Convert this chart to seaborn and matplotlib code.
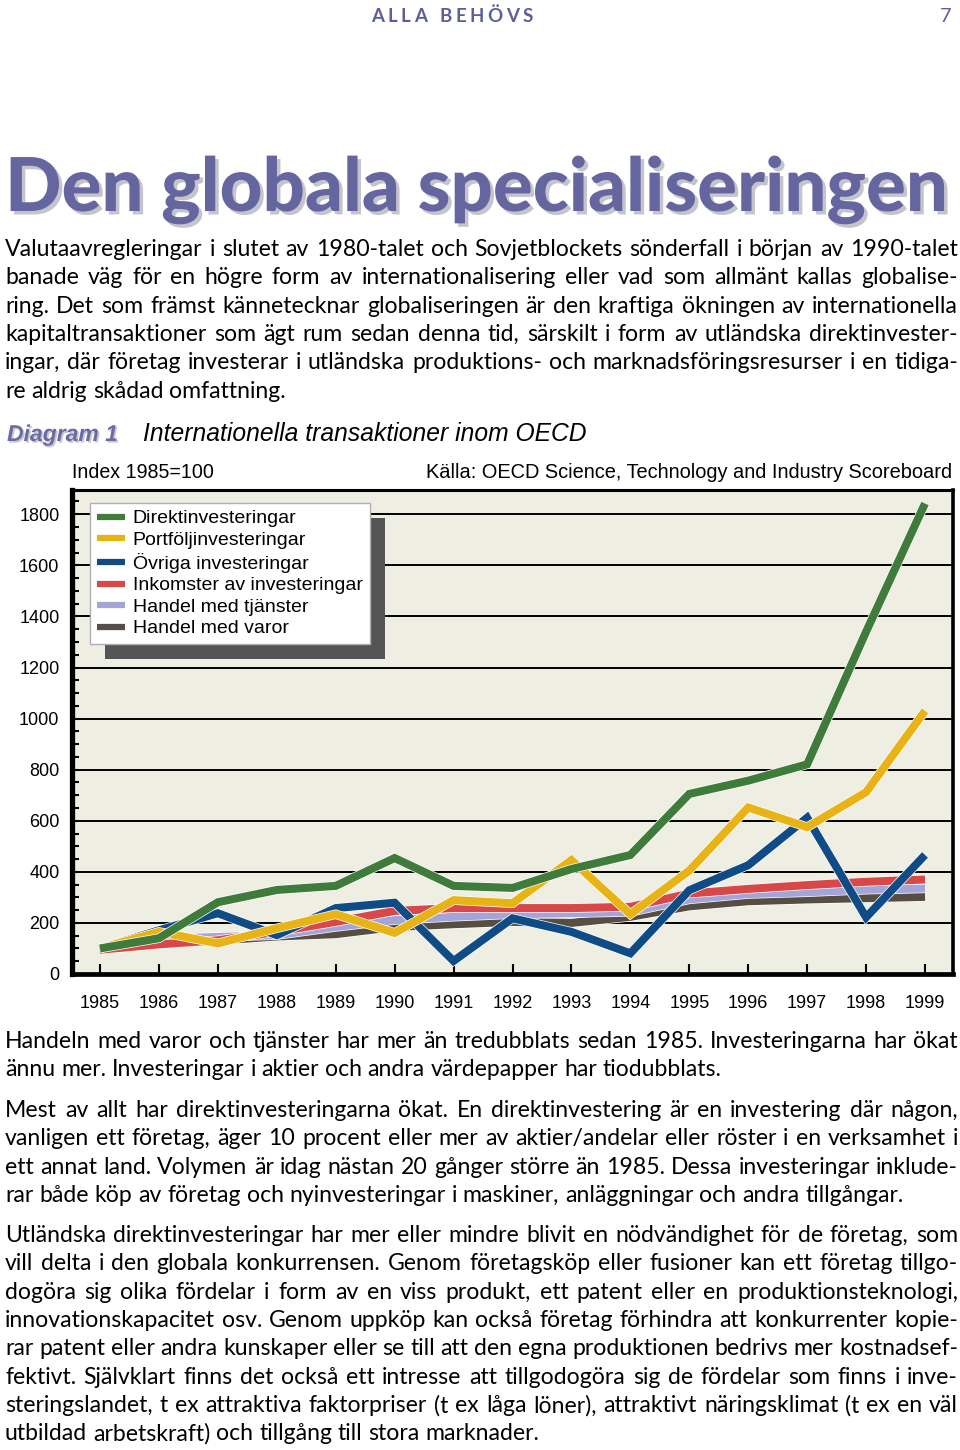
import seaborn as sns
from matplotlib import pyplot as plt
from matplotlib import patheffects as pe
from matplotlib.patches import Rectangle
from matplotlib.ticker import MultipleLocator
import pandas as pd
import numpy as np

# Years on the x axis
years = list(range(1985, 2000))

# Index values (1985=100), one list per series
direkt = [100, 140, 281, 329, 345, 454, 345, 337, 411, 466, 705, 757, 821, 1340, 1842]
portfolj = [100, 165, 120, 179, 234, 161, 289, 277, 446, 234, 405, 652, 575, 712, 1030]
ovriga = [100, 171, 238, 152, 258, 279, 51, 218, 165, 81, 328, 426, 612, 222, 466]
inkomster = [95, 116, 132, 165, 204, 247, 258, 258, 258, 263, 315, 333, 348, 361, 370]
tjanster = [100, 137, 145, 152, 184, 211, 224, 234, 238, 243, 292, 313, 320, 330, 335]
varor = [97, 125, 131, 147, 156, 184, 195, 204, 200, 224, 265, 285, 292, 297, 302]

series_names = ['Direktinvesteringar', 'Portföljinvesteringar', 'Övriga investeringar',
                'Inkomster av investeringar', 'Handel med tjänster', 'Handel med varor']
series_colors = ['#3f7b3a', '#e8b314', '#0f4c86', '#d84848', '#a4a4d8', '#564d43']
y_ticks = list(range(0, 1801, 200))

# Page texts
header = 'ALLA BEHÖVS'
page_no = '7'
title = 'Den globala specialiseringen'
diagram_no = 'Diagram 1'
diagram_title = 'Internationella transaktioner inom OECD'
index_note = 'Index 1985=100'
source_note = 'Källa: OECD Science, Technology and Industry Scoreboard'

para1 = ['Valutaavregleringar i slutet av 1980-talet och Sovjetblockets sönderfall i början av 1990-talet',
         'banade väg för en högre form av internationalisering eller vad som allmänt kallas globalise-',
         'ring. Det som främst kännetecknar globaliseringen är den kraftiga ökningen av internationella',
         'kapitaltransaktioner som ägt rum sedan denna tid, särskilt i form av utländska direktinvester-',
         'ingar, där företag investerar i utländska produktions- och marknadsföringsresurser i en tidiga-',
         're aldrig skådad omfattning.']
para2 = ['Handeln med varor och tjänster har mer än tredubblats sedan 1985. Investeringarna har ökat',
         'ännu mer. Investeringar i aktier och andra värdepapper har tiodubblats.']
para3 = ['Mest av allt har direktinvesteringarna ökat. En direktinvestering är en investering där någon,',
         'vanligen ett företag, äger 10 procent eller mer av aktier/andelar eller röster i en verksamhet i',
         'ett annat land. Volymen är idag nästan 20 gånger större än 1985. Dessa investeringar inklude-',
         'rar både köp av företag och nyinvesteringar i maskiner, anläggningar och andra tillgångar.']
para4 = ['Utländska direktinvesteringar har mer eller mindre blivit en nödvändighet för de företag, som',
         'vill delta i den globala konkurrensen. Genom företagsköp eller fusioner kan ett företag tillgo-',
         'dogöra sig olika fördelar i form av en viss produkt, ett patent eller en produktionsteknologi,',
         'innovationskapacitet osv. Genom uppköp kan också företag förhindra att konkurrenter kopie-',
         'rar patent eller andra kunskaper eller se till att den egna produktionen bedrivs mer kostnadsef-',
         'fektivt. Självklart finns det också ett intresse att tillgodogöra sig de fördelar som finns i inve-',
         'steringslandet, t ex attraktiva faktorpriser (t ex låga löner), attraktivt näringsklimat (t ex en väl',
         'utbildad arbetskraft) och tillgång till stora marknader.']

# Long table for seaborn
df = pd.DataFrame({
    'År': years * 6,
    'Index': direkt + portfolj + ovriga + inkomster + tjanster + varor,
    'Serie': np.repeat(series_names, len(years)),
})

W, H = 960, 1450
fig = plt.figure(figsize=(W / 100, H / 100), dpi=100)
rend = fig.canvas.get_renderer()
blue_text = '#5d6098'
body_font = 'Lato'
chart_font = 'Liberation Sans'


def width_of(t):
    return t.get_window_extent(rend).width


def fig_text(x, y, s, **kw):
    # x, y in pixels from the top left corner of the page
    return fig.text(x / W, 1 - y / H, s, **kw)


def fit_width(t, target):
    t.set_fontsize(t.get_fontsize() * target / width_of(t))


# Header with wide letter spacing
def spaced(xc, y, s, size, extra):
    objs = [fig_text(0, y, c, fontsize=size, family=body_font, fontweight='bold', color=blue_text,
                     va='baseline') for c in s]
    ws = [width_of(o) if c != ' ' else size * 0.35 for o, c in zip(objs, s)]
    total = sum(ws) + extra * (len(s) - 1)
    x = xc - total / 2
    for o, w in zip(objs, ws):
        o.set_x(x / W)
        x += w + extra


spaced(452, 22, header, 13.5, 3.6)
fig_text(946, 22, page_no, fontsize=14.5, family=body_font, color=blue_text, va='baseline', ha='center')

# Big title with a light shadow
t = fig_text(5, 211, title, fontsize=40, family='Lato', fontweight='black', color='#6565a0', va='baseline',
             path_effects=[pe.SimplePatchShadow(offset=(2.5, -2.5), shadow_rgbFace='#c4c4cc', alpha=1), pe.Normal()])
fit_width(t, 942)

# Body text, justified line by line
body_size = 17.0


def natural_width(line, size):
    tmp = fig_text(0, 0, line, fontsize=size, family=body_font)
    w = width_of(tmp)
    tmp.remove()
    return w


widest = max(natural_width(l, body_size) for l in para1 + para2 + para3 + para4)
if widest > 950:
    body_size = body_size * 950 / widest

probe = fig_text(0, 0, 'x x', fontsize=body_size, family=body_font)
probe2 = fig_text(0, 0, 'xx', fontsize=body_size, family=body_font)
space_w = width_of(probe) - width_of(probe2)
probe.remove()
probe2.remove()


def paragraph(lines, y0, step=28.35, x0=5, x1=958):
    for i, line in enumerate(lines):
        y = y0 + i * step
        words = line.split(' ')
        objs = [fig_text(0, y, w, fontsize=body_size, family=body_font, color='black', va='baseline') for w in words]
        ws = [width_of(o) for o in objs]
        if i < len(lines) - 1 and len(words) > 1:
            gap = (x1 - x0 - sum(ws)) / (len(words) - 1)
        else:
            gap = space_w
        x = x0
        for o, w in zip(objs, ws):
            o.set_x(x / W)
            x += w + gap


paragraph(para1, 256)
paragraph(para2, 1048)
paragraph(para3, 1117)
paragraph(para4, 1242)

# Diagram heading
d = fig_text(7, 441, diagram_no, fontsize=17, family=chart_font, fontweight='bold', style='italic',
             color='#6a6aa6', va='baseline',
             path_effects=[pe.SimplePatchShadow(offset=(1.2, -1.2), shadow_rgbFace='#c8c8d0', alpha=1), pe.Normal()])
fit_width(d, 111)
dt = fig_text(143, 441, diagram_title, fontsize=16, family=chart_font, style='italic', color='black', va='baseline')
fit_width(dt, 443)

ni = fig_text(72, 478, index_note, fontsize=13, family=chart_font, va='baseline')
fit_width(ni, 141)
ns = fig_text(952, 478, source_note, fontsize=13, family=chart_font, va='baseline', ha='right')
fit_width(ns, 527)

# The chart itself
ax = fig.add_axes([72 / W, 1 - 974 / H, (953 - 72) / W, (974 - 490) / H])
ax.set_facecolor('#eeeee3')

sns.lineplot(data=df, x='År', y='Index', hue='Serie', hue_order=series_names, palette=series_colors,
             linewidth=5.8, errorbar=None, ax=ax, solid_joinstyle='miter', solid_capstyle='butt')

# Draw the small index series at the bottom, direct investment on top
order = [6, 5, 4, 3, 2, 1]
for line, z in zip(ax.get_lines(), order):
    line.set_zorder(2 + z / 10)
    line.set_path_effects([pe.Stroke(linewidth=6.8, foreground='white'), pe.Normal()])

ax.set_xlim(1984.525, 1999.475)
ax.set_ylim(0, 1895)
ax.set_xticks(years)
ax.set_xticklabels([str(y) for y in years])
ax.set_yticks(y_ticks)
ax.set_yticklabels([str(v) for v in y_ticks])
ax.yaxis.set_minor_locator(MultipleLocator(50))
ax.grid(axis='y', which='major', color='black', linewidth=1.4)
ax.set_axisbelow(True)
ax.set_xlabel('')
ax.set_ylabel('')

ax.tick_params(axis='x', direction='in', length=7, width=1.5, pad=15, labelsize=13)
ax.tick_params(axis='y', which='major', direction='in', length=5, width=1.5, pad=9, labelsize=13)
ax.tick_params(axis='y', which='minor', direction='in', length=5, width=1.5)
for lab in ax.get_xticklabels() + ax.get_yticklabels():
    lab.set_family(chart_font)

ax.spines['left'].set_linewidth(3.8)
ax.spines['bottom'].set_linewidth(3.4)
ax.spines['top'].set_linewidth(2.2)
ax.spines['right'].set_linewidth(2.6)

# Legend with a heavy offset shadow
handles, labels = ax.get_legend_handles_labels()
leg = ax.legend(handles, labels, loc='upper left', bbox_to_anchor=((90 - 72) / 881, (974 - 503) / 484),
                borderaxespad=0, frameon=True, fancybox=False, framealpha=1, edgecolor='#b0b0b0',
                prop={'family': chart_font, 'size': 14}, handlelength=1.45, handletextpad=0.4,
                labelspacing=0.2, borderpad=0.35)
leg.get_frame().set_linewidth(1)
for h in leg.get_lines():
    h.set_linewidth(4.5)
    h.set_path_effects([])

fig.canvas.draw()
bb = leg.get_window_extent(rend)
inv = ax.transAxes.inverted()
(sx0, sy0) = inv.transform((bb.x0 + 15, bb.y0 - 15))
(sx1, sy1) = inv.transform((bb.x1 + 15, bb.y1 - 15))
ax.add_patch(Rectangle((sx0, sy0), sx1 - sx0, sy1 - sy0, transform=ax.transAxes,
                       facecolor='#555555', edgecolor='none', zorder=4.5))
leg.set_zorder(5)

fig.savefig('out.png', dpi=100)
